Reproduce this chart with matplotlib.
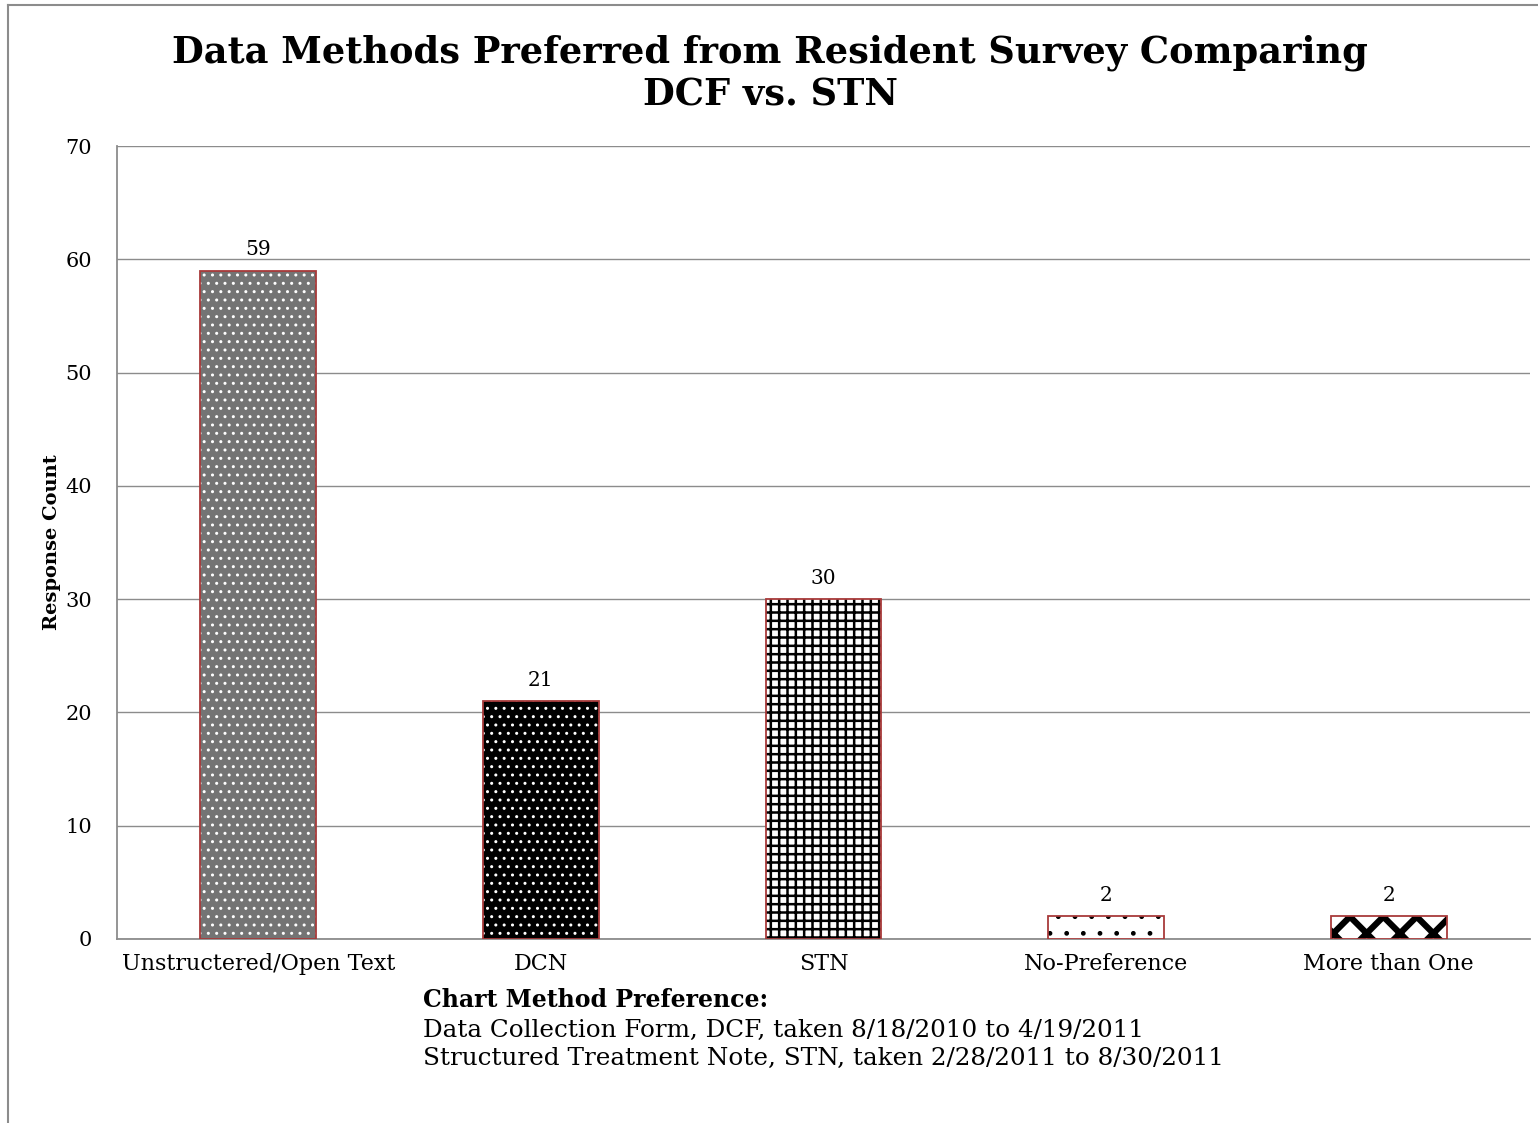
import matplotlib
matplotlib.use("Agg")
import matplotlib.pyplot as plt
from matplotlib.lines import Line2D
import numpy as np

categories = ["Unstructered/Open Text", "DCN", "STN", "No-Preference", "More than One"]
counts = [59, 21, 30, 2, 2]
face_colors = ["#747474", "#000000", "#ffffff", "#ffffff", "#ffffff"]
hatch_colors = ["#ffffff", "#ffffff", "#000000", "#000000", "#000000"]
hatches = ["..", "..", "++", ".", "x"]
hatch_widths = [1.0, 1.0, 1.8, 1.0, 4.5]
yticks = [0, 10, 20, 30, 40, 50, 60, 70]

plt.rcParams['font.family'] = ['DejaVu Serif']
W, H = 1538, 1123
fig = plt.figure(figsize=(W / 100, H / 100), dpi=100)
ax = fig.add_axes([117 / W, 1 - 939 / H, (1530 - 117) / W, (939 - 146) / H])

x = np.arange(len(categories))
for i in range(len(categories)):
    with plt.rc_context({'hatch.linewidth': hatch_widths[i]}):
        ax.bar(x[i], counts[i], width=0.41, color=face_colors[i], edgecolor=hatch_colors[i],
               hatch=hatches[i], linewidth=0, zorder=3)
ax.bar(x, counts, width=0.41, fill=False, edgecolor="#a83a3a", linewidth=1.3, zorder=4)

for xi, c in zip(x, counts):
    ax.text(xi, c + 1.0, str(c), ha="center", va="bottom", fontsize=14.5)

ax.set_xlim(-0.5, len(categories) - 0.5)
ax.set_ylim(0, 70)
ax.set_yticks(yticks)
ax.set_xticks(x)
ax.set_xticklabels(categories, fontsize=16)
ax.tick_params(axis='y', labelsize=15, length=0, pad=18)
ax.tick_params(axis='x', length=0, pad=10)
ax.grid(axis='y', color='#8c8c8c', linewidth=1.0, zorder=0)
for s in ['top', 'right']:
    ax.spines[s].set_visible(False)
for s in ['left', 'bottom']:
    ax.spines[s].set_color('#8c8c8c')
    ax.spines[s].set_linewidth(1.3)

fig.text(52 / W, 1 - 542 / H, "Response Count", rotation=90, ha="center", va="center",
         fontsize=14, fontweight='bold')

fig.text(770 / W, 1 - 74 / H, "Data Methods Preferred from Resident Survey Comparing\nDCF vs. STN",
         ha="center", va="center", fontsize=26.5, fontweight='bold', linespacing=1.2)

fig.text(423 / W, 1 - 1000 / H, "Chart Method Preference:", ha="left", va="center",
         fontsize=17, fontweight='bold')
fig.text(423 / W, 1 - 1030 / H, "Data Collection Form, DCF, taken 8/18/2010 to 4/19/2011",
         ha="left", va="center", fontsize=17.7)
fig.text(423 / W, 1 - 1058 / H, "Structured Treatment Note, STN, taken 2/28/2011 to 8/30/2011",
         ha="left", va="center", fontsize=17.7)

fig.add_artist(Line2D([8 / W, 8 / W], [0, 1 - 5 / H], transform=fig.transFigure, color='#8c8c8c', lw=1.5))
fig.add_artist(Line2D([8 / W, 1], [1 - 5 / H, 1 - 5 / H], transform=fig.transFigure, color='#8c8c8c', lw=1.5))

fig.savefig("out.png", dpi=100)
